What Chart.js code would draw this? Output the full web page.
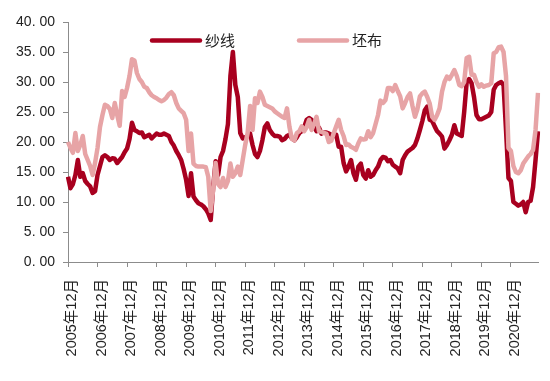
<!DOCTYPE html>
<html><head><meta charset="utf-8">
<script src="https://cdn.jsdelivr.net/npm/chart.js@4/dist/chart.umd.min.js"></script>
<style>html,body{margin:0;padding:0;background:#fff}#wrap{width:550px;height:381px;position:relative}</style>
</head><body><div id="wrap"><canvas id="c"></canvas></div>
<script>
const seriesNames = ['纱线', '坯布'];
const startYear = 2005, startMonth = 12;

const yarn = [
 14.2,12.3,13.0,14.5,17.0,14.2,14.8,13.5,13.0,12.6,11.5,11.8,
 14.5,16.0,17.5,17.8,17.5,17.0,17.3,17.2,16.5,17.0,17.5,18.3,
 18.9,20.5,23.2,22.0,21.8,21.5,21.6,20.8,21.0,21.2,20.6,21.0,
 21.4,21.2,21.2,21.4,21.2,21.0,20.0,19.4,18.5,17.8,17.0,15.5,
 13.7,11.0,14.8,10.9,10.3,9.8,9.6,9.3,8.8,8.1,7.0,12.5,
 16.8,14.5,17.5,18.5,20.5,23.0,31.0,35.0,29.5,27.5,21.5,20.6,
 20.8,21.0,21.4,19.5,18.0,17.5,18.5,20.3,22.5,23.1,22.0,21.4,
 21.0,21.0,20.9,20.3,20.5,21.0,21.2,20.6,20.3,20.8,21.5,21.8,
 22.5,23.7,24.0,23.7,22.5,21.8,22.4,21.4,21.6,21.6,21.4,21.2,
 21.0,21.2,19.2,19.2,16.5,15.1,15.9,17.0,14.8,13.7,15.9,16.4,
 14.5,13.9,15.3,14.2,14.5,15.3,15.9,17.0,17.5,17.4,16.8,17.0,
 16.2,15.9,15.6,14.8,17.0,17.8,18.4,18.7,19.0,19.5,20.6,22.0,
 23.5,25.3,25.9,23.7,23.5,22.6,21.8,21.4,20.9,18.9,19.5,20.3,
 21.2,22.8,21.4,21.2,21.0,25.0,29.9,30.5,29.8,27.5,24.5,23.8,
 23.8,24.0,24.2,24.4,25.0,28.7,29.5,29.8,30.0,29.5,22.0,14.0,
 13.5,10.0,9.7,9.4,9.6,10.0,8.3,10.0,10.2,12.5,17.0,21.8
];

const fabric = [
 20.0,19.0,18.2,21.5,18.5,19.5,21.0,18.0,17.0,16.0,14.5,16.5,
 19.0,22.5,24.5,26.2,26.0,25.5,24.0,26.5,24.5,22.7,28.5,27.5,
 29.0,31.0,33.8,33.6,31.5,30.5,30.0,29.2,29.0,28.3,27.8,27.5,
 27.3,27.0,26.8,27.0,27.4,28.0,28.3,27.8,26.5,25.6,25.2,24.8,
 23.7,18.5,21.4,16.4,16.0,15.9,15.9,15.9,15.8,14.2,8.5,12.0,
 16.5,13.0,12.5,14.0,12.5,13.5,16.4,14.2,14.8,15.9,14.5,17.0,
 19.5,21.5,26.0,22.0,27.3,26.5,28.4,27.5,26.2,26.0,25.8,25.6,
 25.1,24.8,24.5,24.2,24.0,25.6,22.5,20.5,20.3,21.5,21.8,22.6,
 21.8,22.5,23.7,22.0,23.0,24.2,21.8,21.7,21.5,21.4,20.0,20.2,
 21.5,22.6,23.7,22.0,21.0,19.5,19.6,19.2,19.0,18.7,19.8,20.6,
 20.4,20.5,21.8,20.8,21.5,23.0,24.5,26.9,26.5,27.0,29.0,29.0,
 28.5,29.5,28.5,27.6,25.6,26.5,27.5,28.1,26.0,24.2,25.5,27.6,
 28.1,28.4,27.5,26.4,24.2,23.7,24.5,25.6,28.4,30.0,30.9,30.5,
 31.2,32.0,31.0,29.5,29.3,30.0,34.0,34.2,31.2,31.2,30.0,29.2,
 29.6,29.2,29.4,29.5,29.8,34.8,35.0,35.8,35.9,35.0,31.0,19.0,
 18.5,16.0,15.0,14.8,15.3,16.4,17.0,17.6,18.0,18.7,22.0,28.2
];

const yTicks = [0, 5, 10, 15, 20, 25, 30, 35, 40];

// monthly category labels (one per data point)
const months = [];
for (let i = 0; i < yarn.length; i++) {
  const t = startYear * 12 + (startMonth - 1) + i;
  months.push(Math.floor(t / 12) + '年' + (t % 12 + 1) + '月');
}

const COLORS = { yarn: '#A8001F', fabric: '#E7A4A6', axis: '#8C8C8C', text: '#222222' };
const FONT = "'Liberation Sans', Arial, 'Noto Sans CJK SC', sans-serif";

const legendPlugin = {
  id: 'inlineLegend',
  afterDraw(chart) {
    const ctx = chart.ctx, a = chart.chartArea;
    const y = a.top + 18.5;
    let x = a.left + 84;
    ctx.save();
    ctx.font = "15px 'Noto Sans CJK SC', sans-serif";
    ctx.textBaseline = 'middle';
    chart.data.datasets.forEach(ds => {
      ctx.strokeStyle = ds.borderColor;
      ctx.lineWidth = 4.5;
      ctx.lineCap = 'round';
      ctx.beginPath(); ctx.moveTo(x, y); ctx.lineTo(x + 48, y); ctx.stroke();
      ctx.fillStyle = COLORS.text;
      ctx.fillText(ds.label, x + 53, y);
      x += 53 + ctx.measureText(ds.label).width + 64;
    });
    ctx.restore();
  }
};

new Chart(document.getElementById('c'), {
  type: 'line',
  data: {
    labels: months,
    datasets: [
      { label: seriesNames[0], data: yarn, borderColor: COLORS.yarn, borderWidth: 4.5, pointRadius: 0, tension: 0, order: 1, borderJoinStyle: 'round' },
      { label: seriesNames[1], data: fabric, borderColor: COLORS.fabric, borderWidth: 4.5, pointRadius: 0, tension: 0, order: 0, borderJoinStyle: 'round' }
    ]
  },
  options: {
    responsive: true, maintainAspectRatio: false, animation: false, devicePixelRatio: 1,
    layout: { padding: { top: 22, right: 12, left: 0, bottom: 0 } },
    plugins: { legend: { display: false }, tooltip: { enabled: false } },
    scales: {
      x: {
        type: 'category', offset: false,
        grid: { drawOnChartArea: false, drawTicks: true, tickLength: 5, color: COLORS.axis },
        border: { color: COLORS.axis, width: 1 },
        ticks: { autoSkip: false, maxRotation: 90, minRotation: 90, padding: 12, labelOffset: 4, color: COLORS.text,
          font: { family: FONT, size: 14.5 },
          callback(v) { return this.getLabelForValue(v); } },
        afterBuildTicks(s) { s.ticks = s.ticks.filter(t => t.value % 12 === 0); },
        afterFit(s) { s.height = 119; }
      },
      y: {
        min: yTicks[0], max: yTicks[yTicks.length - 1],
        grid: { drawOnChartArea: false, drawTicks: true, tickLength: 5, color: COLORS.axis },
        border: { color: COLORS.axis, width: 1 },
        ticks: { stepSize: 5, padding: 8, color: COLORS.text, font: { family: FONT, size: 14 },
          callback: v => v.toFixed(2).replace('.', '. ') },
        afterFit(s) { s.width = 68; }
      }
    }
  },
  plugins: [legendPlugin]
});
</script></body></html>
